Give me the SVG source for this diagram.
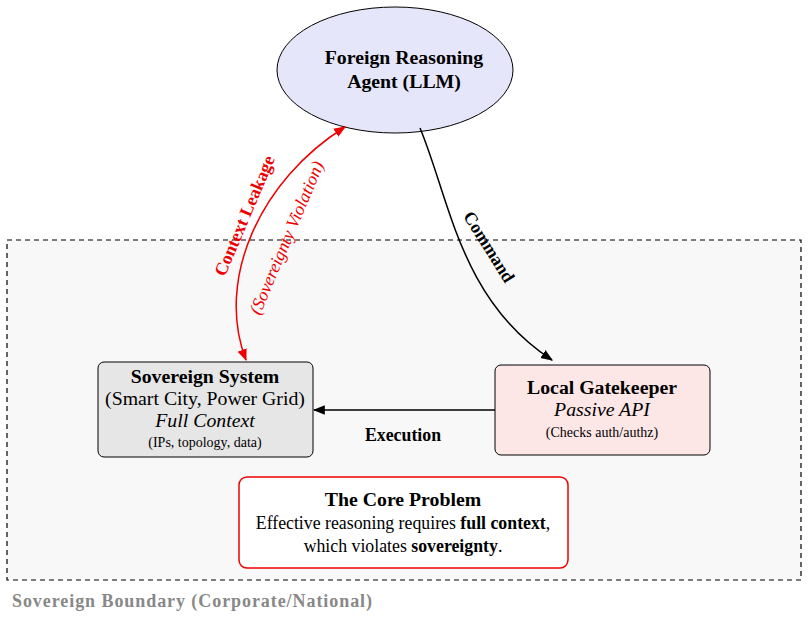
<svg xmlns="http://www.w3.org/2000/svg" width="808" height="617" viewBox="0 0 808 617">
<style>
text{font-family:"Liberation Serif",serif;fill:#000}
.b{font-weight:bold}
.c{stroke:#000;stroke-width:1.5;fill:none}
.r{stroke:#e00;stroke-width:1.5;fill:none}
</style>
<defs>
<marker id="ak" viewBox="0 0 10 10" refX="9" refY="5" markerWidth="8" markerHeight="8" orient="auto-start-reverse"><path d="M0,1 L10,5 L0,9 Z" fill="#000"/></marker>
<marker id="ar" viewBox="0 0 10 10" refX="9" refY="5" markerWidth="8" markerHeight="8" orient="auto-start-reverse"><path d="M0,1 L10,5 L0,9 Z" fill="#e00"/></marker>
</defs>
<rect width="808" height="617" fill="#fff"/>
<g id="boundary">
<rect x="7" y="240" width="794" height="340" fill="#f8f8f8" stroke="#000" stroke-dasharray="5,4" stroke-width="1.2"/>
<text x="12" y="607" class="b" font-size="18" textLength="360" style="fill:#888">Sovereign Boundary (Corporate/National)</text>
</g>
<g id="llm">
<ellipse cx="395" cy="70" rx="118" ry="63" fill="#e6e6fa" stroke="#000" stroke-width="1"/>
<text x="404" y="64" class="b" font-size="19.8" text-anchor="middle">Foreign Reasoning</text>
<text x="404" y="88" class="b" font-size="19.8" text-anchor="middle">Agent (LLM)</text>
</g>
<g id="sovereign">
<rect x="98" y="362" width="215" height="95" rx="6" fill="#e6e6e6" stroke="#000" stroke-width="1"/>
<text x="205" y="383" class="b" font-size="19.8" text-anchor="middle">Sovereign System</text>
<text x="205" y="405" font-size="19.8" text-anchor="middle">(Smart City, Power Grid)</text>
<text x="205" y="427" font-size="19.8" font-style="italic" text-anchor="middle">Full Context</text>
<text x="205" y="447" font-size="14" text-anchor="middle">(IPs, topology, data)</text>
</g>
<g id="gatekeeper">
<rect x="495" y="365" width="215" height="90" rx="6" fill="#fde6e6" stroke="#000" stroke-width="1"/>
<text x="602" y="394" class="b" font-size="19.8" text-anchor="middle">Local Gatekeeper</text>
<text x="602" y="416" font-size="19.8" font-style="italic" text-anchor="middle">Passive API</text>
<text x="602" y="437" font-size="14" text-anchor="middle">(Checks auth/authz)</text>
</g>
<g id="problem">
<rect x="239" y="477" width="329" height="91" rx="8" fill="#fff" stroke="#e00" stroke-width="1.5"/>
<text x="403" y="506" class="b" font-size="19.8" text-anchor="middle">The Core Problem</text>
<text x="403" y="529" font-size="17.8" text-anchor="middle">Effective reasoning requires <tspan class="b">full context</tspan>,</text>
<text x="403" y="552" font-size="17.8" text-anchor="middle">which violates <tspan class="b">sovereignty</tspan>.</text>
</g>
<g id="connectors">
<path class="c" d="M420,128 C450,200 460,300 552,360" marker-end="url(#ak)"/>
<text transform="translate(484,250) rotate(58)" class="b" font-size="17.8" text-anchor="middle">Command</text>
<path class="c" d="M495,410 L314,410" marker-end="url(#ak)"/>
<text x="403" y="441" class="b" font-size="17.8" text-anchor="middle">Execution</text>
<path class="r" d="M345,127 C260,180 215,280 246,360" marker-start="url(#ar)" marker-end="url(#ar)"/>
<text transform="translate(250,218) rotate(-67)" class="b" font-size="17.8" text-anchor="middle" style="fill:#e00">Context Leakage</text>
<text transform="translate(292,240) rotate(-67)" font-size="17.8" font-style="italic" text-anchor="middle" style="fill:#e00">(Sovereignty Violation)</text>
</g>
</svg>
